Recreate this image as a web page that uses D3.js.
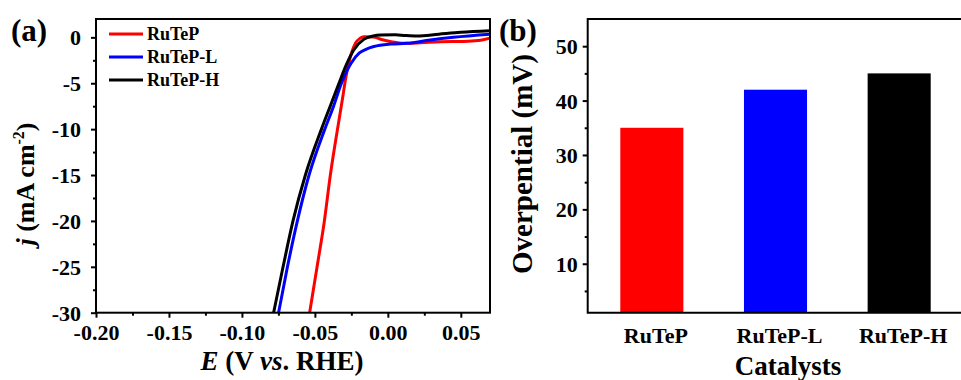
<!DOCTYPE html>
<html><head><meta charset="utf-8">
<script src="https://cdn.jsdelivr.net/npm/d3@7"></script>
<style>body{margin:0;background:#fff}svg{display:block}text{font-family:"Liberation Serif","Times New Roman",serif;font-weight:bold}</style>
</head><body>
<svg id="c" width="961" height="380"></svg>
<script>
// ---- Panel (a) data: LSV curves ----
const seriesNames = ["RuTeP", "RuTeP-L", "RuTeP-H"];
const seriesColors = ["#ff0000", "#0000ff", "#000000"];
const ruTePE = [-0.0536,-0.0485,-0.0435,-0.0394,-0.0345,-0.0309,-0.0291,-0.0268,-0.0222,-0.019,-0.0165,-0.010,-0.005,0.003,0.0108,0.0225,0.036,0.052,0.062,0.07];
const ruTePJ = [-30,-25,-20,-15,-10,-6.5,-4.65,-2.83,-0.65,-0.1,0.07,0.05,-0.2,-0.5,-0.65,-0.59,-0.48,-0.45,-0.35,-0.1];
const ruTePLE = [-0.0749,-0.0688,-0.0620,-0.0540,-0.0432,-0.0372,-0.0318,-0.0252,-0.0195,-0.015,-0.0096,0.002,0.013,0.029,0.045,0.07];
const ruTePLJ = [-30,-25,-20,-15,-10,-7.5,-5,-2.83,-1.7,-1.3,-1.0,-0.73,-0.65,-0.29,0.0,0.33];
const ruTePHE = [-0.0783,-0.0718,-0.0650,-0.0565,-0.0455,-0.0395,-0.0335,-0.0285,-0.0235,-0.0165,-0.010,-0.005,0.005,0.012,0.02,0.035,0.05,0.07];
const ruTePHJ = [-30,-25,-20,-15,-10,-7.5,-5,-3,-1.4,-0.22,0.15,0.25,0.28,0.2,0.15,0.35,0.55,0.72];
const xTicksA = [-0.20,-0.15,-0.10,-0.05,0.00,0.05];
const yTicksA = [0,-5,-10,-15,-20,-25,-30];

// ---- Panel (b) data: overpotential bars ----
const catalysts = ["RuTeP", "RuTeP-L", "RuTeP-H"];
const overpotential = [35, 42, 45];
const yTicksB = [10,20,30,40,50];

const svg = d3.select("#c");

// ===== Panel (a) =====
const aL=96, aR=490, aT=19, aB=312.7;
const xA = d3.scaleLinear().domain([-0.2,0.07]).range([aL,aR]);
const yA = d3.scaleLinear().domain([-30,2]).range([aB,aT]);

svg.append("defs").append("clipPath").attr("id","clipA")
  .append("rect").attr("x",aL).attr("y",aT).attr("width",aR-aL).attr("height",aB-aT);

const series = [
  {E:ruTePE,J:ruTePJ},{E:ruTePLE,J:ruTePLJ},{E:ruTePHE,J:ruTePHJ}
];
const line = d3.line().x(d=>xA(d[0])).y(d=>yA(d[1])).curve(d3.curveMonotoneX);
const gLines = svg.append("g").attr("clip-path","url(#clipA)");
[0,1,2].forEach(i=>{
  const pts = series[i].E.map((e,k)=>[e,series[i].J[k]]);
  gLines.append("path").datum(pts).attr("d",line).attr("fill","none")
    .attr("stroke",seriesColors[i]).attr("stroke-width",3).attr("stroke-linejoin","round").attr("stroke-linecap","round");
});

// axes (a)
const axXA = svg.append("g").attr("transform",`translate(0,${aB})`)
  .call(d3.axisBottom(xA).tickValues(xTicksA).tickFormat(d=>d3.format(".2f")(d).replace("−","-")).tickSize(5).tickSizeOuter(0));
const axXAm = svg.append("g").attr("transform",`translate(0,${aB})`)
  .call(d3.axisBottom(xA).tickValues([-0.175,-0.125,-0.075,-0.025,0.025]).tickFormat("").tickSize(3).tickSizeOuter(0));
const axYA = svg.append("g").attr("transform",`translate(${aL},0)`)
  .call(d3.axisLeft(yA).tickValues(yTicksA).tickFormat(d=>String(d)).tickSize(5).tickSizeOuter(0));
const axYAm = svg.append("g").attr("transform",`translate(${aL},0)`)
  .call(d3.axisLeft(yA).tickValues([-2.5,-7.5,-12.5,-17.5,-22.5,-27.5]).tickFormat("").tickSize(3).tickSizeOuter(0));
[axXA,axXAm,axYA,axYAm].forEach(g=>{
  g.select(".domain").remove();
  g.selectAll(".tick line").attr("stroke","#000").attr("stroke-width",2);
  g.selectAll("text").attr("fill","#000").style("font-size","22px");
});
axXA.selectAll("text").attr("y",27.5).attr("dy","0");
axYA.selectAll("text").attr("x",-15).attr("dy","0.34em");
svg.append("rect").attr("x",aL).attr("y",aT).attr("width",aR-aL).attr("height",aB-aT)
  .attr("fill","none").attr("stroke","#000").attr("stroke-width",2);

// legend
seriesNames.forEach((n,i)=>{
  const y = 34 + i*23;
  svg.append("line").attr("x1",109).attr("x2",143).attr("y1",y).attr("y2",y)
    .attr("stroke",seriesColors[i]).attr("stroke-width",3);
  svg.append("text").attr("x",147).attr("y",y).attr("dy","0.35em").style("font-size","18px").text(n);
});

// titles (a)
svg.append("text").attr("x",11).attr("y",41).style("font-size","31px").text("(a)");
const xt = svg.append("text").attr("x",282).attr("y",370).attr("text-anchor","middle").style("font-size","27px");
xt.append("tspan").style("font-style","italic").text("E");
xt.append("tspan").text(" (V ");
xt.append("tspan").style("font-style","italic").text("vs");
xt.append("tspan").text(". RHE)");
const yt = svg.append("text").attr("transform","translate(34,184) rotate(-90)").attr("text-anchor","middle").style("font-size","26px");
yt.append("tspan").style("font-style","italic").text("j");
yt.append("tspan").text(" (mA cm");
yt.append("tspan").attr("dy","-10").style("font-size","16px").text("-2");
yt.append("tspan").attr("dy","10").text(")");

// ===== Panel (b) =====
const bL=587.7, bT=19, bB=312.7;
const xB = d3.scaleBand().domain(catalysts).range([590,961]).paddingInner(0.49).paddingOuter(0.245);
const yB = d3.scaleLinear().domain([1,55]).range([bB,bT]);

svg.append("g").selectAll("rect").data(catalysts).join("rect")
  .attr("x",d=>xB(d)).attr("width",xB.bandwidth())
  .attr("y",(d,i)=>yB(overpotential[i])).attr("height",(d,i)=>bB-yB(overpotential[i]))
  .attr("fill",(d,i)=>seriesColors[i]);

const axYB = svg.append("g").attr("transform",`translate(${bL},0)`)
  .call(d3.axisLeft(yB).tickValues(yTicksB).tickFormat(d3.format("d")).tickSize(5).tickSizeOuter(0));
const axYBm = svg.append("g").attr("transform",`translate(${bL},0)`)
  .call(d3.axisLeft(yB).tickValues([5,15,25,35,45]).tickFormat("").tickSize(3).tickSizeOuter(0));
const axXB = svg.append("g").attr("transform",`translate(0,${bB})`)
  .call(d3.axisBottom(xB).tickSize(0).tickSizeOuter(0));
[axYB,axYBm,axXB].forEach(g=>{
  g.select(".domain").remove();
  g.selectAll(".tick line").attr("stroke","#000").attr("stroke-width",2);
  g.selectAll("text").attr("fill","#000").style("font-size","22px");
});
axYB.selectAll("text").attr("x",-10).attr("dy","0.34em");
axXB.selectAll("text").style("font-size","22px").attr("y",30).attr("dy","0").attr("x",4);
svg.append("path").attr("d",`M962,${bT}H${bL}V${bB}H962`).attr("fill","none").attr("stroke","#000").attr("stroke-width",2);

svg.append("text").attr("x",499).attr("y",41).style("font-size","31px").text("(b)");
svg.append("text").attr("x",788).attr("y",375).attr("text-anchor","middle").style("font-size","27px").text("Catalysts");
svg.append("text").attr("transform","translate(532,164) rotate(-90)").attr("text-anchor","middle").style("font-size","29px").text("Overpential (mV)");
</script>
</body></html>
